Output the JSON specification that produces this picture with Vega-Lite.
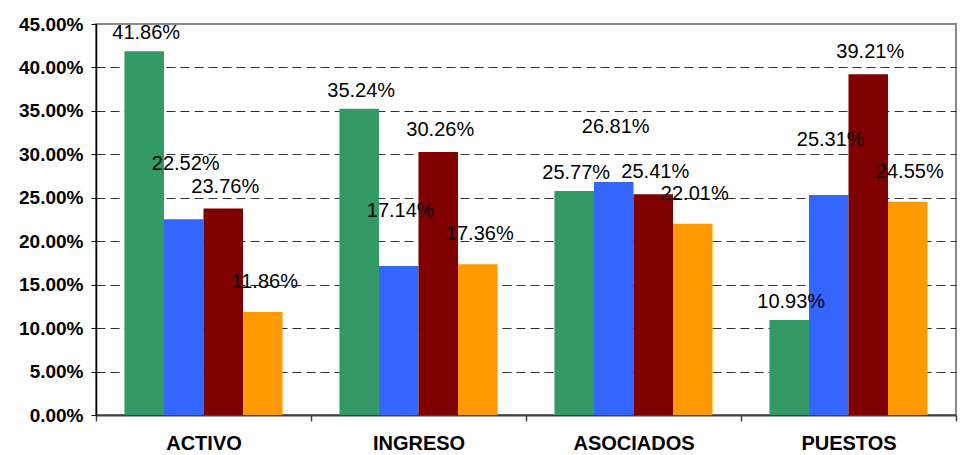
{
  "$schema": "https://vega.github.io/schema/vega-lite/v6.json",
  "width": 860,
  "height": 391,
  "autosize": "none",
  "padding": {"left": 96, "top": 24, "right": 8, "bottom": 40},
  "background": "white",
  "config": {
    "view": {"stroke": "#8a8a8a", "strokeWidth": 2},
    "font": "Liberation Sans"
  },
  "data": {
    "values": [
      {"categoria": "ACTIVO", "serie": "S1", "valor": 0.4186},
      {"categoria": "ACTIVO", "serie": "S2", "valor": 0.2252},
      {"categoria": "ACTIVO", "serie": "S3", "valor": 0.2376},
      {"categoria": "ACTIVO", "serie": "S4", "valor": 0.1186},
      {"categoria": "INGRESO", "serie": "S1", "valor": 0.3524},
      {"categoria": "INGRESO", "serie": "S2", "valor": 0.1714},
      {"categoria": "INGRESO", "serie": "S3", "valor": 0.3026},
      {"categoria": "INGRESO", "serie": "S4", "valor": 0.1736},
      {"categoria": "ASOCIADOS", "serie": "S1", "valor": 0.2577},
      {"categoria": "ASOCIADOS", "serie": "S2", "valor": 0.2681},
      {"categoria": "ASOCIADOS", "serie": "S3", "valor": 0.2541},
      {"categoria": "ASOCIADOS", "serie": "S4", "valor": 0.2201},
      {"categoria": "PUESTOS", "serie": "S1", "valor": 0.1093},
      {"categoria": "PUESTOS", "serie": "S2", "valor": 0.2531},
      {"categoria": "PUESTOS", "serie": "S3", "valor": 0.3921},
      {"categoria": "PUESTOS", "serie": "S4", "valor": 0.2455}
    ]
  },
  "encoding": {
    "x": {
      "field": "categoria",
      "type": "nominal",
      "sort": ["ACTIVO", "INGRESO", "ASOCIADOS", "PUESTOS"],
      "scale": {"paddingInner": 0, "paddingOuter": 0},
      "axis": {
        "title": null,
        "labelAngle": 0,
        "labelFont": "Liberation Sans",
        "labelFontWeight": "bold",
        "labelFontSize": 20,
        "labelColor": "black",
        "labelPadding": 12,
        "tickBand": "extent",
        "tickSize": 6,
        "tickColor": "#404040",
        "tickWidth": 1.5,
        "domainColor": "#404040",
        "domainWidth": 2,
        "grid": false
      }
    },
    "xOffset": {
      "field": "serie",
      "type": "nominal",
      "sort": ["S1", "S2", "S3", "S4"],
      "scale": {"paddingInner": 0, "paddingOuter": 0.72}
    },
    "y": {
      "field": "valor",
      "type": "quantitative",
      "scale": {"domain": [0, 0.45], "nice": false},
      "axis": {
        "title": null,
        "format": ".2%",
        "values": [0, 0.05, 0.1, 0.15, 0.2, 0.25, 0.3, 0.35, 0.4, 0.45],
        "labelFont": "Liberation Sans",
        "labelFontWeight": "bold",
        "labelFontSize": 19,
        "labelColor": "black",
        "labelPadding": 8,
        "tickSize": 5,
        "tickColor": "black",
        "domainColor": "black",
        "domainWidth": 1.5,
        "grid": true,
        "gridColor": "#333333",
        "gridDash": [9, 5],
        "gridWidth": 1,
        "gridOpacity": {"condition": {"test": "datum.value >= 0.449 || datum.value <= 0.001", "value": 0}, "value": 1}
      }
    }
  },
  "layer": [
    {
      "mark": {"type": "bar"},
      "encoding": {
        "color": {
          "field": "serie",
          "type": "nominal",
          "scale": {"domain": ["S1", "S2", "S3", "S4"], "range": ["#339966", "#3366FF", "#800000", "#FF9900"]},
          "legend": null
        }
      }
    },
    {
      "transform": [{"filter": "datum.serie === 'S1'"}],
      "mark": {"type": "text", "dy": -18, "dx": 2, "fontSize": 20, "font": "Liberation Sans", "color": "black"},
      "encoding": {"text": {"field": "valor", "type": "quantitative", "format": ".2%"}}
    },
    {
      "transform": [{"filter": "datum.serie === 'S2'"}],
      "mark": {"type": "text", "dy": -55, "dx": 2, "fontSize": 20, "font": "Liberation Sans", "color": "black"},
      "encoding": {"text": {"field": "valor", "type": "quantitative", "format": ".2%"}}
    },
    {
      "transform": [{"filter": "datum.serie === 'S3'"}],
      "mark": {"type": "text", "dy": -22, "dx": 2, "fontSize": 20, "font": "Liberation Sans", "color": "black"},
      "encoding": {"text": {"field": "valor", "type": "quantitative", "format": ".2%"}}
    },
    {
      "transform": [{"filter": "datum.serie === 'S4'"}],
      "mark": {"type": "text", "dy": -30, "dx": 2, "fontSize": 20, "font": "Liberation Sans", "color": "black"},
      "encoding": {"text": {"field": "valor", "type": "quantitative", "format": ".2%"}}
    }
  ]
}
